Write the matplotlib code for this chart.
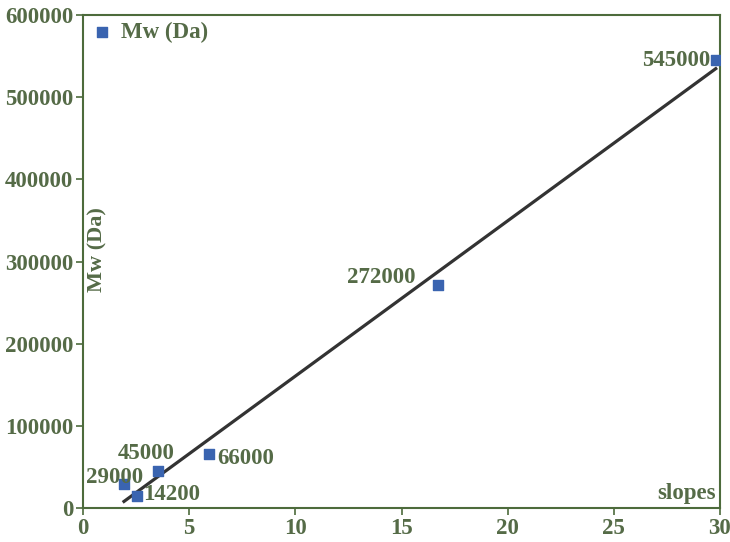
import numpy as np
import matplotlib
matplotlib.use("Agg")
import matplotlib.pyplot as plt

# data
slopes = [1.93, 2.54, 3.53, 5.93, 16.7, 29.8]
mw = [29000, 14200, 45000, 66000, 272000, 545000]
labels = ["29000", "14200", "45000", "66000", "272000", "545000"]
# where each label sits relative to its point (x, y, ha)
label_pos = [(2.83, 37700, "right"), (2.83, 17000, "left"), (2.97, 66800, "center"),
             (6.31, 60750, "left"), (15.64, 280700, "right"), (29.53, 544300, "right")]

plt.rcParams['font.family'] = ['Liberation Serif', 'DejaVu Serif']
plt.rcParams['font.weight'] = 'bold'

txt = '#556b47'
spine = '#4d6b3c'

fig = plt.figure(figsize=(7.3, 5.42), dpi=100)
ax = fig.add_axes([0.1137, 0.0627, 0.8726, 0.9096])

ax.scatter(slopes, mw, marker='s', s=42, color='#3a64b0', label='Mw (Da)', zorder=3)

# linear fit drawn across the data range
k, b = np.polyfit(slopes, mw, 1)
xs = np.array([min(slopes), max(slopes)])
ax.plot(xs, k * xs + b, color='#333333', lw=2.3, zorder=2)

for lab, (tx, ty, ha) in zip(labels, label_pos):
    ax.text(tx, ty, lab, ha=ha, va='center', fontsize=16.5, color=txt, fontweight='bold')

ax.set_xlim(0, 30)
ax.set_ylim(0, 600000)
ax.set_xticks([0, 5, 10, 15, 20, 25, 30])
ax.set_yticks([0, 100000, 200000, 300000, 400000, 500000, 600000])
ax.tick_params(colors=spine, labelcolor=txt, labelsize=16.5, length=5, width=1.2, pad=2)
for s in ax.spines.values():
    s.set_color(spine)
    s.set_linewidth(1.5)

ax.text(0.022, 0.525, 'Mw (Da)', transform=ax.transAxes, rotation=90,
        ha='center', va='center', fontsize=16, color=txt)
ax.text(0.994, 0.03, 'slopes', transform=ax.transAxes, ha='right', va='center',
        fontsize=16.5, color=txt)

ax.legend(loc='upper left', bbox_to_anchor=(-0.02, 1.028), frameon=False,
          handlelength=1.0, handletextpad=0.3, fontsize=16.5, labelcolor=txt,
          scatterpoints=1)

fig.savefig('out.png', dpi=100)
